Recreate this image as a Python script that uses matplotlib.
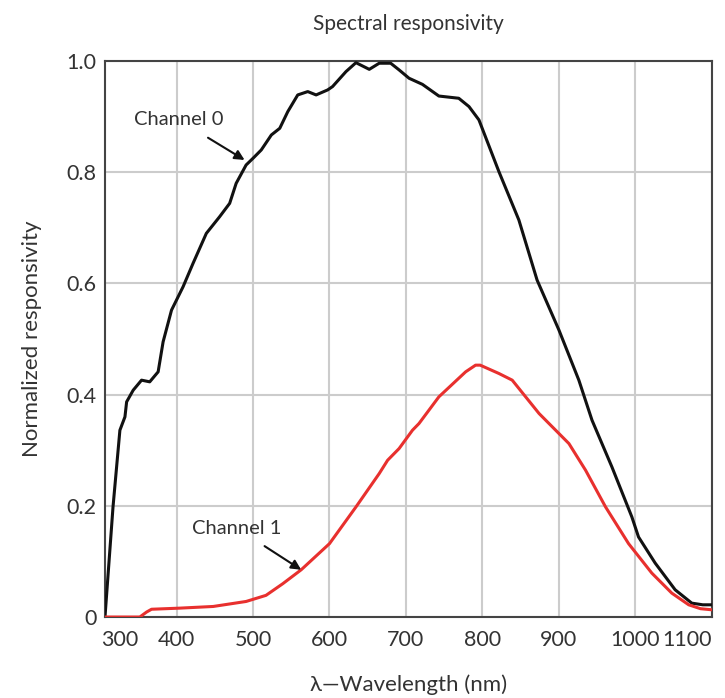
import numpy as np
from matplotlib import pyplot as plt

# Channel 0 (black)
ch0_nm = [306.5, 317, 326, 332.6, 334.8, 343.4, 354.3, 365, 376, 382.5, 393.5, 408.6,
          421.6, 439, 456.4, 469.5, 478, 491, 500, 510.8, 524, 535, 545.5, 558.5,
          571.6, 582.5, 597.6, 604, 621.6, 634.6, 652, 665, 680, 691, 704, 721.5,
          743, 769, 782.4, 795.4, 821.5, 847.6, 871.4, 900, 926, 943.2, 969.2,
          995.3, 1004, 1025.8, 1051.9, 1073.6, 1088, 1100]
ch0_val = [0.0, 0.198, 0.336, 0.36, 0.387, 0.408, 0.426, 0.423, 0.441, 0.495, 0.552, 0.594,
           0.636, 0.69, 0.72, 0.744, 0.78, 0.813, 0.825, 0.84, 0.867, 0.879, 0.909, 0.939,
           0.945, 0.939, 0.948, 0.954, 0.981, 0.997, 0.985, 0.996, 0.996, 0.984, 0.969, 0.958,
           0.937, 0.933, 0.918, 0.894, 0.801, 0.714, 0.606, 0.516, 0.426, 0.354, 0.27,
           0.18, 0.144, 0.097, 0.049, 0.025, 0.022, 0.022]

# Channel 1 (red)
ch1_nm = [306.5, 352, 360.9, 367.4, 404.3, 448, 491, 517, 539, 563, 600, 634.6, 665,
          676, 691, 708.5, 717, 743, 778, 791, 797, 821.5, 838.9, 874, 900, 913,
          934.8, 960.9, 991, 1021.4, 1047.5, 1069.6, 1085, 1100]
ch1_val = [0.0, 0.0, 0.009, 0.014, 0.016, 0.019, 0.028, 0.039, 0.06, 0.085, 0.132, 0.198, 0.258,
           0.282, 0.303, 0.336, 0.348, 0.396, 0.441, 0.453, 0.453, 0.438, 0.426, 0.366, 0.33, 0.312,
           0.264, 0.198, 0.132, 0.079, 0.043, 0.022, 0.015, 0.013]

x_ticks = [326, 400, 500, 600, 700, 800, 900, 1000, 1100]
x_labels = ['300', '400', '500', '600', '700', '800', '900', '1000', '1100']
y_ticks = [0, 0.2, 0.4, 0.6, 0.8, 1.0]
y_labels = ['0', '0.2', '0.4', '0.6', '0.8', '1.0']

plt.rcParams['font.family'] = ['Lato', 'DejaVu Sans']

fig = plt.figure(figsize=(7.25, 6.98), dpi=100)
ax = fig.add_axes([0.1448, 0.116, 0.8372, 0.7966])

ax.plot(ch0_nm, ch0_val, color='#111111', lw=2.2, zorder=3)
ax.plot(ch1_nm, ch1_val, color='#e8302e', lw=2.2, zorder=3)

ax.set_xlim(306.5, 1100)
ax.set_ylim(0, 1.0)
ax.set_xticks(x_ticks)
ax.set_xticklabels(x_labels)
ax.set_yticks(y_ticks)
ax.set_yticklabels(y_labels)
ax.tick_params(length=0, labelsize=15.5, colors='#333333')
ax.tick_params(axis='x', pad=9)
ax.tick_params(axis='y', pad=6)
ax.get_xticklabels()[-1].set_ha('right')
ax.grid(True, color='#cccccc', lw=1.5)
ax.xaxis.get_gridlines()[0].set_visible(False)  # "300" label has no line
for s in ax.spines.values():
    s.set_color('#444444')
    s.set_linewidth(1.5)

ax.annotate('Channel 0', xy=(489, 0.822), xytext=(403, 0.894), ha='center', va='center',
            fontsize=14.5, color='#333333',
            arrowprops=dict(arrowstyle='-|>', color='#111111', lw=1.5, shrinkA=9, shrinkB=0))
ax.annotate('Channel 1', xy=(563, 0.085), xytext=(478.6, 0.16), ha='center', va='center',
            fontsize=14.5, color='#333333',
            arrowprops=dict(arrowstyle='-|>', color='#111111', lw=1.5, shrinkA=9, shrinkB=0))

ax.set_title('Spectral responsivity', fontsize=15, color='#333333', pad=22)
ax.set_xlabel('λ—Wavelength (nm)', fontsize=16, color='#333333', labelpad=18)
ax.set_ylabel('Normalized responsivity', fontsize=16, color='#333333', labelpad=18)

plt.savefig('out.png')
